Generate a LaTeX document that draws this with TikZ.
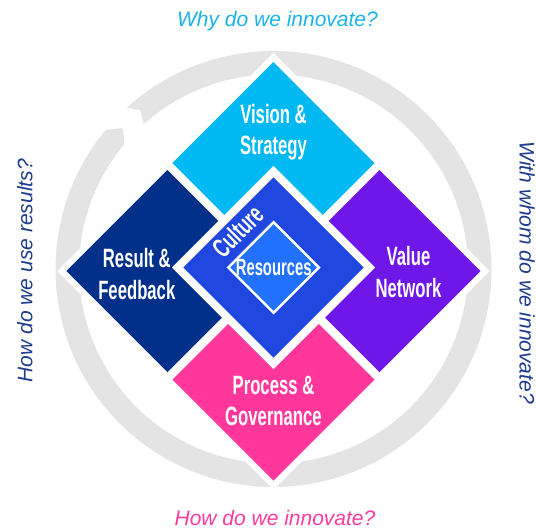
\documentclass[tikz,border=0pt]{standalone}
\usepackage{fontspec}
\usetikzlibrary{shapes.geometric}

\newfontfamily\condfont[FakeStretch=0.63]{Liberation Sans Bold}
\newfontfamily\askfont{Liberation Sans}

\definecolor{ringgray}{HTML}{E4E4E4}
\definecolor{visioncyan}{HTML}{00B9F2}
\definecolor{resultnavy}{HTML}{00308A}
\definecolor{valuepurple}{HTML}{6F16E8}
\definecolor{processpink}{HTML}{FF379B}
\definecolor{cultureblue}{HTML}{2048E0}
\definecolor{resourceblue}{HTML}{2272FF}
\definecolor{askcyan}{HTML}{1AB4EA}
\definecolor{asknavy}{HTML}{1D3C8E}
\definecolor{askpink}{HTML}{FF3C9E}

\tikzset{
  tile/.style={diamond, aspect=1, inner sep=0pt, outer sep=0pt, minimum size=#1},
  tile/.default=202pt,
  lbl/.style={text=white, align=center, font=\condfont\fontsize{26.5}{31.5}\selectfont},
  ask/.style={anchor=base, font=\askfont\itshape\fontsize{21}{25}\selectfont},
}

\begin{document}
\begin{tikzpicture}[x=1pt, y=1pt]
    \useasboundingbox (-273.5,-257) rectangle (262.5,271);

    % grey cycle arrow behind the tiles
    \fill[ringgray, shift={(0,2)}] (140.3:218) arc[start angle=140.3, end angle=492.3, radius=218]
        -- (490:207) -- (491.9:194.5) arc[start angle=491.9, end angle=140.1, radius=194.5]
        -- (136.9:206) -- cycle;

    % white halos first, so the gaps stay clean
    \foreach \pos [count=\i] in {(0,108),(-106,0),(106,0),(0,-108.5)} {
        \node[tile, draw=white, line width=12.8pt] (halo\i) at \pos {};
    }

    % the four outer tiles
    \node[tile, fill=visioncyan] (vision) at (0,108) {};
    \node[tile, fill=resultnavy] (result) at (-106,0) {};
    \node[tile, fill=valuepurple] (value) at (106,0) {};
    \node[tile, fill=processpink] (process) at (0,-108.5) {};

    % core
    \node[tile=192pt, fill=cultureblue, draw=white, line width=7.8pt] (culture) at (0,3.5) {};
    \node[tile=90.5pt, fill=resourceblue, draw=white, line width=2.5pt] (resources) at (0.2,3.5) {};

    % tile labels
    \node[lbl] (visiontxt) at ([yshift=31pt]vision.center) {Vision \&\\Strategy};
    \node[lbl] (resulttxt) at ([xshift=-30.7pt, yshift=-3pt]result.center) {Result \&\\Feedback};
    \node[lbl] (valuetxt) at ([xshift=29pt, yshift=-1pt]value.center) {Value\\Network};
    \node[lbl] (processtxt) at ([yshift=-21.5pt]process.center) {Process \&\\Governance};
    \node[lbl, inner sep=0pt, rotate=45, font=\condfont\fontsize{27}{30}\selectfont] (culturetxt) at ([xshift=-36pt, yshift=36pt]culture.center) {Culture};
    \node[lbl, inner sep=0pt, font=\condfont\fontsize{23.5}{28}\selectfont] (resourcestxt) at (resources.center) {Resources};

    % the four questions
    \node[ask, text=askcyan] (why) at (4,244.3) {Why do we innovate?};
    \node[ask, text=askpink] (how) at (1.5,-254.8) {How do we innovate?};
    \node[ask, text=asknavy, rotate=90] (use) at (-241,0.3) {How do we use results?};
    \node[ask, text=asknavy, rotate=-90] (whom) at (246.2,-1.6) {With whom do we innovate?};
\end{tikzpicture}
\end{document}
